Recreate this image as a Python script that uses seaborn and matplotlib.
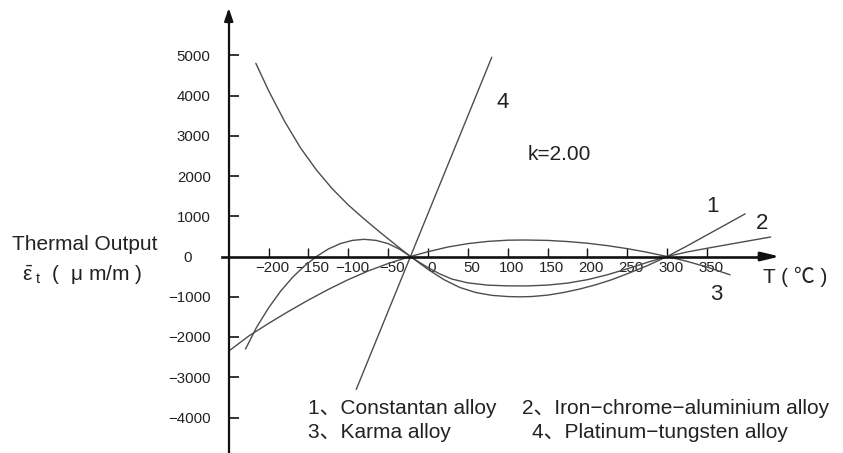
import matplotlib
matplotlib.use("Agg")
import matplotlib.pyplot as plt
import matplotlib.transforms as mtransforms
import numpy as np
import pandas as pd
import seaborn as sns

# ---------------- data ----------------
t_constantan = [-216, -200, -180, -160, -140, -120, -100, -80, -60, -40, -22, 0, 20, 40, 60,
                80, 100, 115, 130, 150, 170, 190, 210, 230, 250, 275, 300, 325, 350, 375, 398]
v_constantan = [4800, 4120, 3360, 2700, 2150, 1680, 1280, 930, 600, 280, 0, -320, -575, -770,
                -895, -965, -995, -1002, -995, -960, -895, -810, -705, -580, -430, -230, 0,
                262, 535, 808, 1060]

t_iron = [-229, -215, -200, -185, -170, -155, -140, -125, -110, -95, -80, -65, -50, -36, -22,
          -10, 0, 15, 30, 50, 75, 100, 125, 150, 175, 200, 225, 250, 275, 300, 325, 350,
          375, 400, 430]
v_iron = [-2300, -1756, -1276, -864, -519, -234, 0, 187, 320, 400, 427, 400, 320, 185, 0,
          -155, -275, -435, -560, -655, -712, -730, -731, -710, -661, -576, -454, -305,
          -147, 0, 112, 204, 292, 380, 485]

t_karma = [-250, -225, -200, -175, -150, -125, -100, -75, -50, -22, 0, 25, 50, 75, 100,
           120, 150, 175, 200, 225, 250, 275, 300, 325, 350, 379]
v_karma = [-2350, -1977, -1662, -1364, -1082, -817, -574, -359, -174, 0, 119, 236, 320,
           375, 405, 410, 400, 372, 330, 270, 195, 105, 0, -121, -261, -455]

t_platinum = [-90, 80]
v_platinum = [-3300, 4950]

x_ticks = [-200, -150, -100, -50, 0, 50, 100, 150, 200, 250, 300, 350]
y_ticks = [-4000, -3000, -2000, -1000, 1000, 2000, 3000, 4000, 5000]

legend_1 = "1\u3001Constantan alloy"
legend_2 = "2\u3001Iron\u2212chrome\u2212aluminium alloy"
legend_3 = "3\u3001Karma alloy"
legend_4 = "4\u3001Platinum\u2212tungsten alloy"

# ---------------- style ----------------
sns.set_theme(style="white")
plt.rcParams["font.family"] = ["Liberation Sans", "Noto Sans CJK SC", "DejaVu Sans"]
plt.rcParams["mathtext.fontset"] = "custom"
plt.rcParams["mathtext.rm"] = "Liberation Sans"
plt.rcParams["mathtext.it"] = "Liberation Sans:italic"
plt.rcParams["axes.unicode_minus"] = True

TXT = "#222222"
LINE = "#4d4d4d"
AXC = "#111111"

W, H = 843, 453
fig = plt.figure(figsize=(W / 100, H / 100), dpi=100)
ax = fig.add_axes([0, 0, 1, 1])
ax.set_facecolor("white")

# pixel mapping of the reference: origin pixel & scale
X0_PX, PX_PER_DEG = 428.0, 0.797
Y0_PX, PX_PER_UNIT = 256.5, 0.04025
ax.set_xlim(-X0_PX / PX_PER_DEG, (W - X0_PX) / PX_PER_DEG)
ymin = (Y0_PX - H) / PX_PER_UNIT
ax.set_ylim(ymin, Y0_PX / PX_PER_UNIT)

# ---------------- curves ----------------
frames = []
for name, t, v in [("Constantan", t_constantan, v_constantan),
                   ("Iron-chrome-aluminium", t_iron, v_iron),
                   ("Karma", t_karma, v_karma),
                   ("Platinum-tungsten", t_platinum, v_platinum)]:
    frames.append(pd.DataFrame({"T": t, "v": v, "alloy": name}))
df = pd.concat(frames, ignore_index=True)
sns.lineplot(data=df, x="T", y="v", units="alloy", estimator=None, sort=False,
             color=LINE, lw=1.0, ax=ax, legend=False)
ax.set_xlabel("")
ax.set_ylabel("")

# ---------------- axes ----------------
ax.spines["top"].set_visible(False)
ax.spines["right"].set_visible(False)
ax.spines["left"].set_position(("data", -250))
ax.spines["bottom"].set_position(("data", 0))
ax.spines["left"].set_bounds(ymin, 5950)
ax.spines["bottom"].set_bounds(-258, 425)
ax.spines["left"].set_linewidth(1.6)
ax.spines["bottom"].set_linewidth(1.9)
ax.spines["left"].set_color(AXC)
ax.spines["bottom"].set_color(AXC)

ax.annotate("", xy=(-250, (Y0_PX - 8) / PX_PER_UNIT), xytext=(-250, 5800),
            arrowprops=dict(arrowstyle="-|>,head_length=0.38,head_width=0.13",
                            mutation_scale=20, color=AXC, lw=1.6, shrinkA=0, shrinkB=0))
ax.annotate("", xy=((780 - X0_PX) / PX_PER_DEG, 0), xytext=(415, 0),
            arrowprops=dict(arrowstyle="-|>,head_length=0.55,head_width=0.13",
                            mutation_scale=20, color=AXC, lw=1.9, shrinkA=0, shrinkB=0))

ax.set_xticks(x_ticks)
ax.set_xticklabels([f"{v}".replace("-", "\u2212") for v in x_ticks])
ax.set_yticks(y_ticks)
ax.set_yticklabels([f"{v}".replace("-", "\u2212") for v in y_ticks])
ax.tick_params(axis="y", left=True, direction="in", length=7, width=1.2, pad=13,
               labelsize=10.8, color=AXC, labelcolor=TXT)
ax.tick_params(axis="x", bottom=True, direction="in", length=6.5, width=1.0, pad=3.5,
               labelsize=10.8, color=AXC, labelcolor=TXT)
ax.grid(False)
offset = mtransforms.ScaledTranslation(4 / 100, 0, fig.dpi_scale_trans)
for lab in ax.get_xticklabels():
    lab.set_transform(lab.get_transform() + offset)


def ftext(x, y, s, size, ha="center", va="center", **kw):
    fig.text(x / W, 1 - y / H, s, fontsize=size, color=TXT, ha=ha, va=va, **kw)


ftext(188, 258, "0", 10.8)
ftext(85, 244, "Thermal Output", 15)
ftext(82, 275, r"$\bar{\mathrm{\varepsilon}}_{\ \mathrm{t}}$  (  " + "\u03bc m/m )", 15)
ftext(559, 155, "k=2.00", 15)
ftext(503, 102, "4", 16)
ftext(713, 207, "1", 16)
ftext(762, 223, "2", 16)
ftext(716, 294, "3", 16)
ftext(763, 277, "T ( \u2103 )", 15, ha="left")

ftext(308, 409, legend_1, 15, ha="left")
ftext(522, 409, legend_2, 15, ha="left")
ftext(308, 432, legend_3, 15, ha="left")
ftext(532, 432, legend_4, 15, ha="left")

fig.savefig("out.png", dpi=100, facecolor="white")
